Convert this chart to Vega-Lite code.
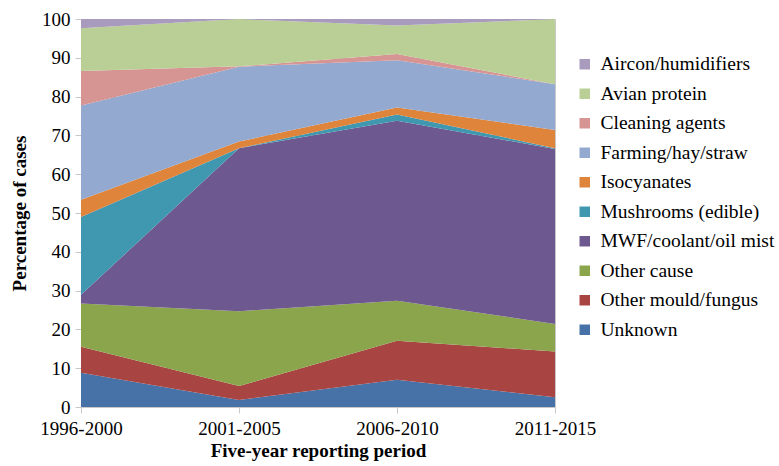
{
  "$schema": "https://vega.github.io/schema/vega-lite/v6.json",
  "width": 474,
  "height": 388,
  "autosize": {"type": "none"},
  "padding": {"left": 81, "top": 19, "right": 224, "bottom": 59},
  "background": "white",
  "config": {
    "font": "Liberation Serif",
    "view": {"stroke": "#c8c8c8", "strokeWidth": 1}
  },
  "data": {
    "values": [
      {"period": "1996-2000", "cause": "Unknown", "pct": 8.8},
      {"period": "1996-2000", "cause": "Other mould/fungus", "pct": 6.7},
      {"period": "1996-2000", "cause": "Other cause", "pct": 11.2},
      {"period": "1996-2000", "cause": "MWF/coolant/oil mist", "pct": 2.2},
      {"period": "1996-2000", "cause": "Mushrooms (edible)", "pct": 20.1},
      {"period": "1996-2000", "cause": "Isocyanates", "pct": 4.4},
      {"period": "1996-2000", "cause": "Farming/hay/straw", "pct": 24.3},
      {"period": "1996-2000", "cause": "Cleaning agents", "pct": 8.9},
      {"period": "1996-2000", "cause": "Avian protein", "pct": 11.0},
      {"period": "1996-2000", "cause": "Aircon/humidifiers", "pct": 2.4},
      {"period": "2001-2005", "cause": "Unknown", "pct": 1.8},
      {"period": "2001-2005", "cause": "Other mould/fungus", "pct": 3.6},
      {"period": "2001-2005", "cause": "Other cause", "pct": 19.3},
      {"period": "2001-2005", "cause": "MWF/coolant/oil mist", "pct": 42.0},
      {"period": "2001-2005", "cause": "Mushrooms (edible)", "pct": 0.0},
      {"period": "2001-2005", "cause": "Isocyanates", "pct": 1.7},
      {"period": "2001-2005", "cause": "Farming/hay/straw", "pct": 19.3},
      {"period": "2001-2005", "cause": "Cleaning agents", "pct": 0.1},
      {"period": "2001-2005", "cause": "Avian protein", "pct": 12.2},
      {"period": "2001-2005", "cause": "Aircon/humidifiers", "pct": 0.0},
      {"period": "2006-2010", "cause": "Unknown", "pct": 7.0},
      {"period": "2006-2010", "cause": "Other mould/fungus", "pct": 10.1},
      {"period": "2006-2010", "cause": "Other cause", "pct": 10.3},
      {"period": "2006-2010", "cause": "MWF/coolant/oil mist", "pct": 46.4},
      {"period": "2006-2010", "cause": "Mushrooms (edible)", "pct": 1.6},
      {"period": "2006-2010", "cause": "Isocyanates", "pct": 1.8},
      {"period": "2006-2010", "cause": "Farming/hay/straw", "pct": 12.2},
      {"period": "2006-2010", "cause": "Cleaning agents", "pct": 1.6},
      {"period": "2006-2010", "cause": "Avian protein", "pct": 7.3},
      {"period": "2006-2010", "cause": "Aircon/humidifiers", "pct": 1.7},
      {"period": "2011-2015", "cause": "Unknown", "pct": 2.5},
      {"period": "2011-2015", "cause": "Other mould/fungus", "pct": 11.8},
      {"period": "2011-2015", "cause": "Other cause", "pct": 7.1},
      {"period": "2011-2015", "cause": "MWF/coolant/oil mist", "pct": 45.1},
      {"period": "2011-2015", "cause": "Mushrooms (edible)", "pct": 0.2},
      {"period": "2011-2015", "cause": "Isocyanates", "pct": 4.7},
      {"period": "2011-2015", "cause": "Farming/hay/straw", "pct": 11.8},
      {"period": "2011-2015", "cause": "Cleaning agents", "pct": 0.0},
      {"period": "2011-2015", "cause": "Avian protein", "pct": 16.8},
      {"period": "2011-2015", "cause": "Aircon/humidifiers", "pct": 0.0}
    ]
  },
  "transform": [
    {"calculate": "indexof(['Unknown','Other mould/fungus','Other cause','MWF/coolant/oil mist','Mushrooms (edible)','Isocyanates','Farming/hay/straw','Cleaning agents','Avian protein','Aircon/humidifiers'], datum.cause)", "as": "stackrank"}
  ],
  "mark": {"type": "area", "line": false, "opacity": 1},
  "encoding": {
    "x": {
      "field": "period",
      "type": "ordinal",
      "scale": {"type": "point", "padding": 0},
      "axis": {
        "title": "Five-year reporting  period",
        "titleFont": "Liberation Serif",
        "titleFontSize": 19,
        "titleFontWeight": "bold",
        "titleColor": "black",
        "titlePadding": 3,
        "labelAngle": 0,
        "labelFont": "Liberation Serif",
        "labelFontSize": 19,
        "labelColor": "black",
        "labelPadding": 6,
        "domainColor": "#c8c8c8",
        "tickColor": "#c8c8c8",
        "tickSize": 6,
        "grid": false
      }
    },
    "y": {
      "field": "pct",
      "type": "quantitative",
      "stack": "zero",
      "scale": {"domain": [0, 100], "nice": false},
      "axis": {
        "title": "Percentage of cases",
        "titleFont": "Liberation Serif",
        "titleFontSize": 19,
        "titleFontWeight": "bold",
        "titleColor": "black",
        "titlePadding": 12,
        "values": [0, 10, 20, 30, 40, 50, 60, 70, 80, 90, 100],
        "labelFont": "Liberation Serif",
        "labelFontSize": 19,
        "labelColor": "black",
        "labelPadding": 5,
        "domainColor": "#c8c8c8",
        "tickColor": "#c8c8c8",
        "tickSize": 6,
        "grid": true,
        "gridColor": "#c8c8c8"
      }
    },
    "color": {
      "field": "cause",
      "type": "nominal",
      "scale": {
        "domain": ["Aircon/humidifiers", "Avian protein", "Cleaning agents", "Farming/hay/straw", "Isocyanates", "Mushrooms (edible)", "MWF/coolant/oil mist", "Other cause", "Other mould/fungus", "Unknown"],
        "range": ["#a99bbd", "#b9cf96", "#d69493", "#93a9cf", "#df843b", "#3f97b0", "#6e5890", "#8ba54d", "#a84442", "#4672a8"]
      },
      "legend": {
        "title": null,
        "orient": "none",
        "legendX": 494,
        "legendY": 35.5,
        "symbolType": "square",
        "symbolSize": 110,
        "symbolStrokeWidth": 0,
        "labelFont": "Liberation Serif",
        "labelFontSize": 19.5,
        "labelColor": "black",
        "labelOffset": 6,
        "rowPadding": 8.5,
        "labelLimit": 300
      }
    },
    "order": {"field": "stackrank", "type": "quantitative", "sort": "ascending"}
  }
}
